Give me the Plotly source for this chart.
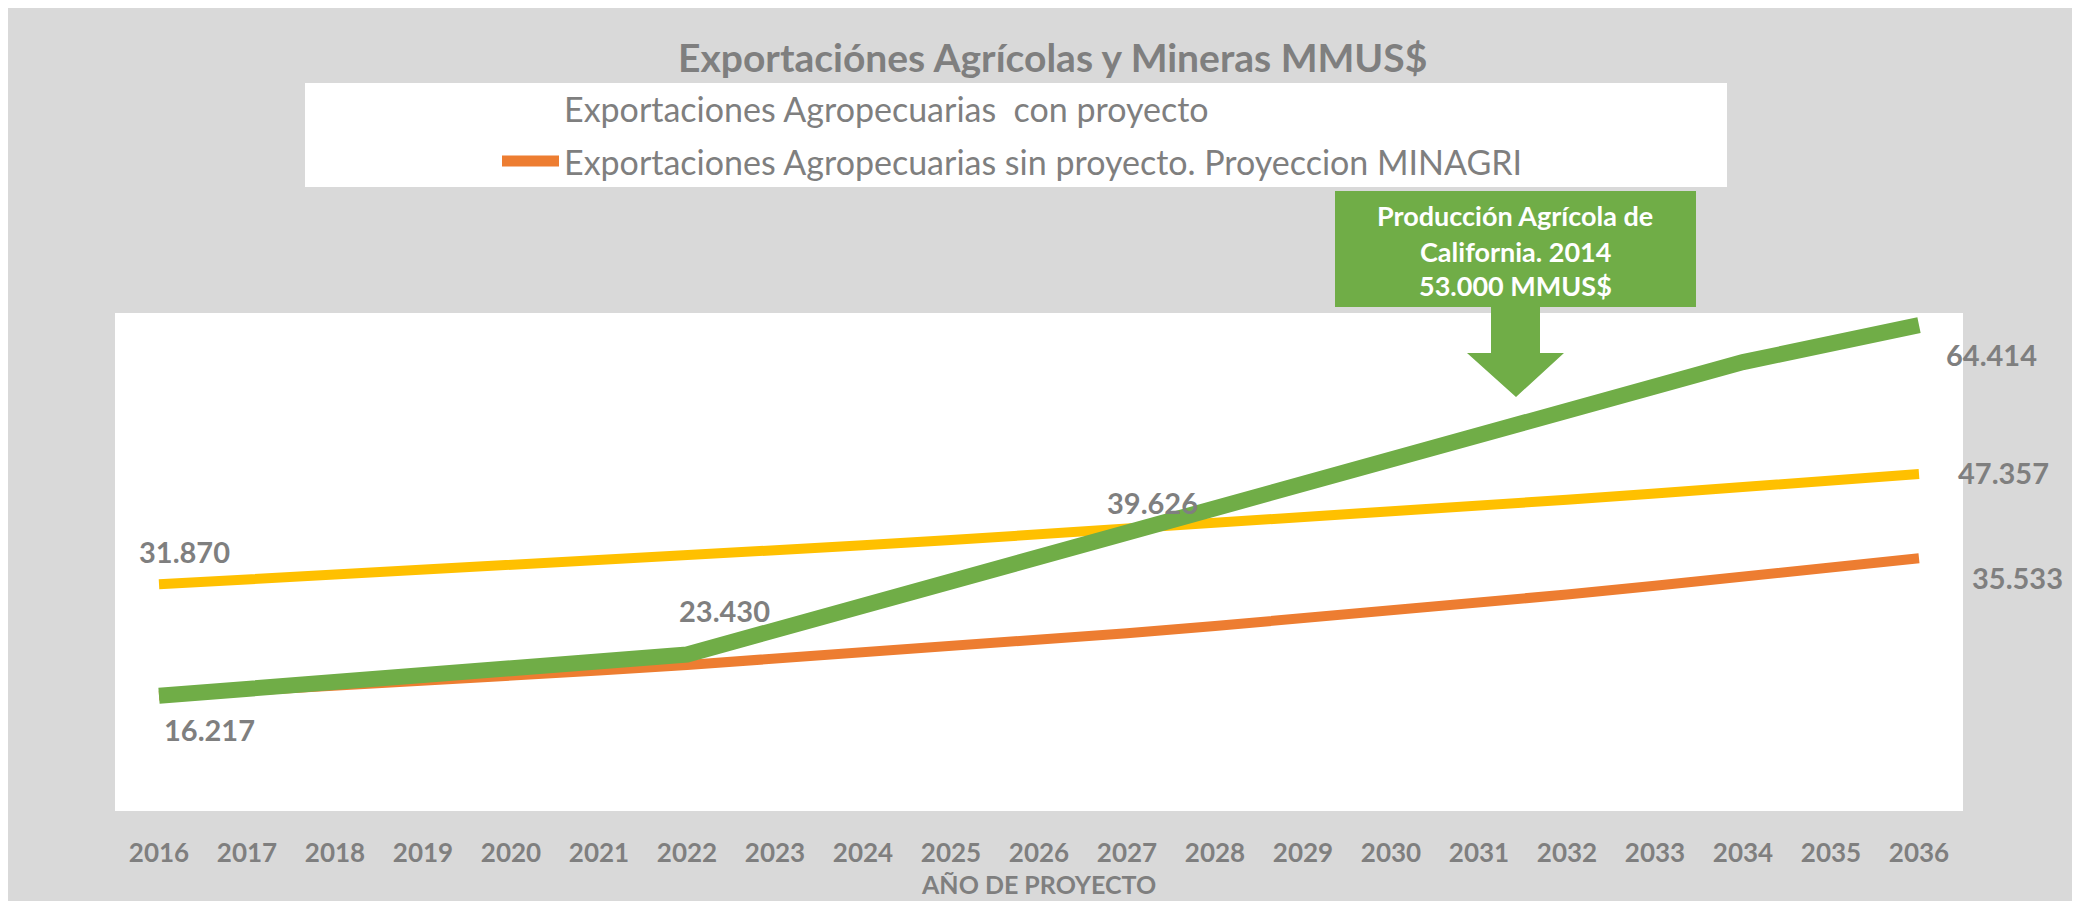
import plotly.graph_objects as go

# ---------------- data ----------------
years = list(range(2016, 2037))
minagri_sin_proyecto = [16.217, 16.87, 17.54, 18.25, 18.98, 19.74, 20.53, 21.36, 22.21, 23.10,
                        24.03, 25.00, 26.00, 27.04, 28.13, 29.26, 30.43, 31.65, 32.92, 34.24, 35.533]
serie_amarilla = [31.870, 32.51, 33.16, 33.82, 34.50, 35.19, 35.89, 36.61, 37.34, 38.09,
                  38.85, 39.626, 40.42, 41.23, 42.05, 42.90, 43.75, 44.63, 45.52, 46.43, 47.357]
con_proyecto_years = [2016, 2022, 2034, 2036]
con_proyecto = [16.2, 22.0, 63.1, 68.3]

label_years = [2016, 2016, 2022, 2027, 2036, 2036, 2036]
label_values = [31.870, 16.217, 22.0, 39.626, 68.3, 47.357, 35.533]
label_text = ["31.870", "16.217", "23.430", "39.626", "64.414", "47.357", "35.533"]
label_shift = [(25, 33), (50, -34), (37, 44), (25, 27), (72, -29), (84, 2), (98, -19)]

title_text = "Exportaciónes Agrícolas y Mineras MMUS$"
legend_names = ["Exportaciones Agropecuarias  con proyecto",
                "Exportaciones Agropecuarias sin proyecto. Proyeccion MINAGRI"]
callout_lines = ["Producción Agrícola de", "California. 2014", "53.000 MMUS$"]
x_title = "AÑO DE PROYECTO"

# ---------------- layout helpers ----------------
W, H = 2080, 901
OFF = 8  # page body margin
L, T = 115 - OFF, 313 - OFF
PW, PH = 1848, 498
R = W - L - PW
B = H - T - PH


def px(x):  # screenshot pixel -> paper
    return (x - OFF - L) / PW


def py(y):
    return (T + PH - (y - OFF)) / PH


GRAY = "#7F7F7F"
BG = "#D9D9D9"
FONT = "Lato"

fig = go.Figure()
fig.add_trace(go.Scatter(x=years, y=serie_amarilla, mode="lines",
                         line=dict(color="#FFC000", width=10), showlegend=False))
fig.add_trace(go.Scatter(x=years, y=minagri_sin_proyecto, mode="lines",
                         line=dict(color="#ED7D31", width=10), showlegend=False))
fig.add_trace(go.Scatter(x=con_proyecto_years, y=con_proyecto, mode="lines",
                         line=dict(color="#70AD47", width=16), showlegend=False))

shapes = []
# legend box
shapes.append(dict(type="rect", xref="paper", yref="paper", x0=px(305), x1=px(1727), y0=py(83), y1=py(187),
                   fillcolor="white", line_width=0, layer="below"))
shapes.append(dict(type="line", xref="paper", yref="paper", x0=px(502), x1=px(559), y0=py(161), y1=py(161),
                   line=dict(color="#ED7D31", width=11), layer="above"))
# callout box and arrow
shapes.append(dict(type="rect", xref="paper", yref="paper", x0=px(1335), x1=px(1696), y0=py(191), y1=py(307),
                   fillcolor="#70AD47", line_width=0, layer="above"))
pts = [(1491, 306), (1540, 306), (1540, 353), (1564, 353), (1516, 397), (1467, 353), (1491, 353)]
path = "M " + " L ".join(f"{px(a):.5f},{py(b):.5f}" for a, b in pts) + " Z"
shapes.append(dict(type="path", xref="paper", yref="paper", path=path,
                   fillcolor="#70AD47", line_width=0, layer="above"))

ann = []
ann.append(dict(text=f"<b>{title_text}</b>", xref="paper", yref="paper", x=px(1052), y=py(57),
                showarrow=False, xanchor="center", yanchor="middle",
                font=dict(family=FONT, size=39, color=GRAY)))
for name, yy in zip(legend_names, [108, 161]):
    ann.append(dict(text=name, xref="paper", yref="paper", x=px(562), y=py(yy),
                    showarrow=False, xanchor="left", yanchor="middle",
                    font=dict(family=FONT, size=34, color=GRAY)))
for line, yy in zip(callout_lines, [215, 251, 285]):
    ann.append(dict(text=f"<b>{line}</b>", xref="paper", yref="paper", x=px(1515), y=py(yy),
                    showarrow=False, xanchor="center", yanchor="middle",
                    font=dict(family=FONT, size=27, color="white")))
ann.append(dict(text=f"<b>{x_title}</b>", xref="paper", yref="paper", x=px(1038), y=py(884),
                showarrow=False, xanchor="center", yanchor="middle",
                font=dict(family=FONT, size=25, color=GRAY)))
for xv, yv, t, (dx, dy) in zip(label_years, label_values, label_text, label_shift):
    ann.append(dict(text=f"<b>{t}</b>", x=years.index(xv), y=yv, xref="x", yref="y", showarrow=False,
                    xanchor="center", yanchor="middle", xshift=dx, yshift=dy,
                    font=dict(family=FONT, size=29, color=GRAY)))

fig.update_layout(
    width=W, height=H,
    margin=dict(l=L, r=R, t=T, b=B, pad=0),
    paper_bgcolor=BG, plot_bgcolor="white",
    shapes=shapes, annotations=ann, showlegend=False,
    xaxis=dict(type="category", categoryorder="array", categoryarray=years,
               range=[-0.5, 20.5], showgrid=False, zeroline=False, showline=False,
               ticks="", ticklabelstandoff=24,
               tickfont=dict(family=FONT, size=26, color=GRAY, weight="bold")),
    yaxis=dict(range=[0, 70], visible=False, showgrid=False, zeroline=False),
)

fig.write_html("out.html")
